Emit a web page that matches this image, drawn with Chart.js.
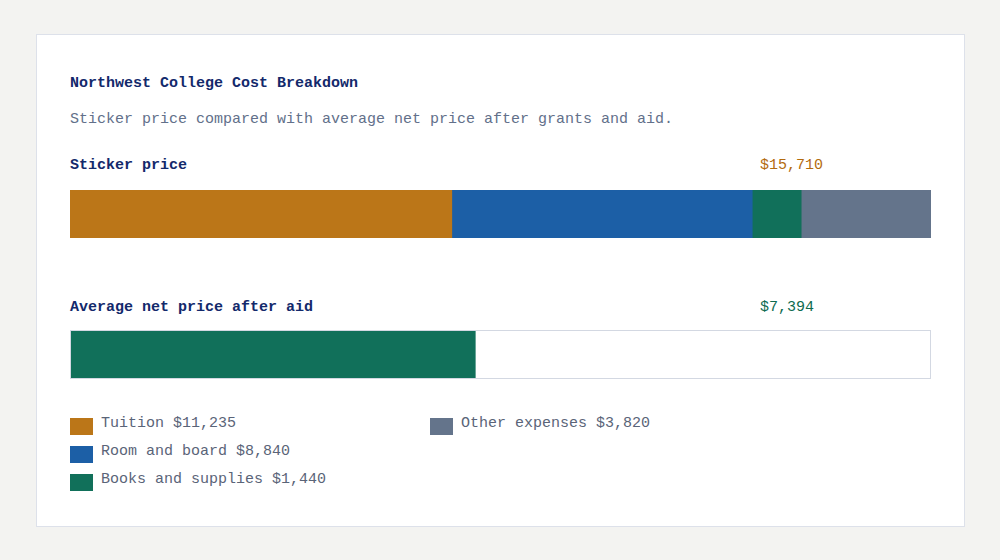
<!DOCTYPE html>
<html><head><meta charset="utf-8">
<script src="https://cdn.jsdelivr.net/npm/chart.js@4"></script>
<style>
body{margin:0;width:1000px;height:560px;background:#f3f3f1;font-family:"Liberation Mono",monospace;position:relative;overflow:hidden}
.card{position:absolute;left:36px;top:34px;width:927px;height:491px;background:#fff;border:1px solid #dde1ea}
.t{position:absolute;white-space:pre;font-size:15px}
#c1w{position:absolute;left:70px;top:190px;width:861px;height:48px}
#c2w{position:absolute;left:70px;top:330px;width:859px;height:47px;border:1px solid #d3d8e2}
.sw{position:absolute;width:23px;height:17px}
</style></head><body>
<div class="card"></div>
<div class="t" style="left:70px;top:75px;color:#13296b;font-weight:bold">Northwest College Cost Breakdown</div>
<div class="t" style="left:70px;top:111px;color:#62708a">Sticker price compared with average net price after grants and aid.</div>
<div class="t" style="left:70px;top:157px;color:#13296b;font-weight:bold">Sticker price</div>
<div class="t" id="sv" style="left:760px;top:157px;color:#b36b0e"></div>
<div class="t" style="left:70px;top:299px;color:#13296b;font-weight:bold">Average net price after aid</div>
<div class="t" id="nv" style="left:760px;top:299px;color:#0e6b50"></div>
<div id="c1w"><canvas id="c1"></canvas></div>
<div id="c2w"><canvas id="c2"></canvas></div>
<div id="leg"></div>
<script>
const categories=["Tuition","Room and board","Books and supplies","Other expenses"];
const values=[11235,8840,1440,3820];
const stickerPrice=15710;
const netPrice=7394;
const colors=["#bb7618","#1c5fa6","#11705a","#64748b"];
const fmt=v=>"$"+v.toLocaleString("en-US");
document.getElementById("sv").textContent=fmt(stickerPrice);
document.getElementById("nv").textContent=fmt(netPrice);
const total=values.reduce((a,b)=>a+b,0);
const base={responsive:true,maintainAspectRatio:false,animation:false,indexAxis:'y',
 layout:{padding:0},plugins:{legend:{display:false},tooltip:{enabled:false}}};
new Chart(document.getElementById("c1"),{type:'bar',
 data:{labels:["Sticker price"],datasets:categories.map((c,i)=>({label:c,data:[values[i]],backgroundColor:colors[i],barPercentage:1,categoryPercentage:1,borderWidth:0}))},
 options:{...base,scales:{x:{stacked:true,display:false,min:0,max:total},y:{stacked:true,display:false}}}});
new Chart(document.getElementById("c2"),{type:'bar',
 data:{labels:["Net"],datasets:[{data:[netPrice],backgroundColor:"#11705a",barPercentage:1,categoryPercentage:1,borderWidth:0}]},
 options:{...base,scales:{x:{display:false,min:0,max:stickerPrice},y:{display:false}}}});
const leg=document.getElementById("leg");
categories.forEach((c,i)=>{
 const col=i<3?0:1,row=i<3?i:0;
 const x=70+col*360,y=418+row*28;
 leg.insertAdjacentHTML("beforeend",`<div class="sw" style="left:${x}px;top:${y}px;background:${colors[i]}"></div><div class="t" style="left:${x+31}px;top:${y-3}px;color:#5a6478">${c} ${fmt(values[i])}</div>`);
});
</script></body></html>
